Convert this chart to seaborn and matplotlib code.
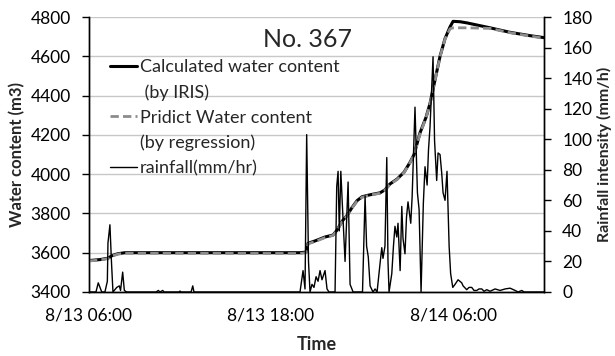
import pandas as pd
import seaborn as sns
import matplotlib
matplotlib.use("Agg")
from matplotlib import pyplot as plt
from matplotlib.lines import Line2D

# time in hours after 8/13 06:00
tick_hours = [0, 12, 24]
tick_labels = ["8/13 06:00", "8/13 18:00", "8/14 06:00"]

# water content (m3), calculated by IRIS
calc_hours = [0, 0.73, 1.25, 1.52, 1.91, 2.37, 13.91, 14.31, 14.44, 14.9, 15.56, 16.09,
              16.35, 16.68, 17.01, 17.34, 17.67, 18.0, 18.53, 19.19, 19.51, 19.84, 20.31,
              20.77, 21.16, 21.43, 21.82, 22.22, 22.48, 22.81, 23.14, 23.47, 23.8, 24.0,
              24.46, 24.92, 26.44, 27.76, 29.08, 30.0]
calc_water = [3560, 3565, 3572, 3585, 3595, 3600, 3600, 3603, 3648, 3660, 3680, 3690,
              3715, 3760, 3790, 3830, 3865, 3885, 3895, 3905, 3920, 3950, 3975,
              4010, 4060, 4100, 4210, 4290, 4360, 4480, 4600, 4690, 4750, 4778,
              4776, 4770, 4745, 4722, 4705, 4695]

# water content (m3), predicted by regression
pred_hours = [0, 0.73, 1.25, 1.52, 1.91, 2.37, 13.91, 14.31, 14.44, 14.9, 15.56, 16.09,
              16.35, 16.68, 17.01, 17.34, 17.67, 18.0, 18.53, 19.19, 19.51, 19.84, 20.31,
              20.77, 21.16, 21.43, 21.82, 22.22, 22.48, 22.81, 23.14, 23.47, 23.8, 24.0,
              24.46, 24.92, 26.44, 27.76, 29.08, 30.0]
pred_water = [3558, 3563, 3570, 3583, 3593, 3597, 3596, 3600, 3645, 3657, 3677, 3688,
              3712, 3758, 3788, 3828, 3862, 3882, 3893, 3903, 3918, 3948, 3973,
              4008, 4058, 4098, 4205, 4288, 4358, 4478, 4598, 4688, 4740, 4745,
              4745, 4745, 4742, 4720, 4703, 4692]

# rainfall intensity (mm/h)
rain_hours = [0, 0.46, 0.61, 0.84, 1.05, 1.21, 1.25, 1.38, 1.48, 1.58, 1.83, 2.0, 2.08,
              2.22, 2.33, 2.49, 4.42, 4.57, 4.68, 4.86, 4.95, 5.93, 6.0, 6.07, 6.73,
              6.84, 6.92, 13.91, 14.11, 14.24, 14.35, 14.47, 14.57, 14.7, 14.83, 14.97,
              15.1, 15.23, 15.36, 15.56, 15.69, 15.82, 16.22, 16.33, 16.42, 16.5, 16.6,
              16.74, 16.88, 17.08, 17.21, 17.41, 18.03, 18.2, 18.3, 18.41, 18.53, 18.72,
              18.86, 18.99, 19.19, 19.3, 19.38, 19.51, 19.63, 19.71, 19.78, 19.96, 20.07,
              20.17, 20.29, 20.37, 20.51, 20.62, 20.7, 20.83, 20.93, 21.03, 21.21, 21.3,
              21.49, 21.65, 21.76, 21.89, 22.04, 22.15, 22.29, 22.38, 22.48, 22.68,
              22.78, 22.92, 23.01, 23.14, 23.25, 23.34, 23.47, 23.6, 23.74, 23.84, 23.98,
              24.13, 24.33, 24.57, 24.66, 24.9, 25.05, 25.23, 25.38, 25.56, 25.71, 25.89,
              26.04, 26.22, 26.44, 26.77, 27.1, 27.43, 27.76, 28.09, 28.29, 28.53, 28.68,
              30.0]
rain_mm = [0, 0, 6, 0, 0, 7, 32, 44, 20, 0, 3, 4, 1,
           13, 1, 0, 0, 1, 0, 1, 0, 0, 0.6, 0, 0,
           4, 0, 0, 14, 2, 103, 20, 0, 5, 3, 10,
           7, 14, 8, 14, 2, 0, 0, 69, 79, 40, 79,
           49, 20, 72, 5, 0, 0, 63, 30, 23, 4, 0,
           2, 0, 19, 29, 22, 30, 88, 20, 0, 12, 30,
           43, 36, 45, 14, 56, 35, 25, 49, 59, 45, 62,
           121, 65, 54, 0, 58, 82, 70, 93, 108, 154,
           99, 73, 91, 90, 78, 65, 60, 79, 30, 12, 3,
           5, 8, 6, 4, 1.5, 3, 3, 1, 1, 2, 2,
           0.5, 1.5, 0.5, 2, 1, 2, 2.5, 1, 0, 1, 0,
           0]

calc = pd.DataFrame({"hours": calc_hours, "water": calc_water})
pred = pd.DataFrame({"hours": pred_hours, "water": pred_water})
rain = pd.DataFrame({"hours": rain_hours, "rain": rain_mm})

sns.set_style("white")
plt.rcParams["font.family"] = ["Lato", "DejaVu Sans"]

fig = plt.figure(figsize=(6.15, 3.56), dpi=100)
ax = fig.add_axes([0.1447, 0.1798, 0.74, 0.7724])
ax2 = ax.twinx()

sns.lineplot(data=pred, x="hours", y="water", ax=ax, color="#8c8c8c", lw=2,
             linestyle=(0, (3, 1.5)), estimator=None, legend=False, zorder=3)
sns.lineplot(data=calc, x="hours", y="water", ax=ax, color="black", lw=2.2,
             estimator=None, legend=False, zorder=2)
sns.lineplot(data=rain, x="hours", y="rain", ax=ax2, color="black", lw=1,
             estimator=None, legend=False)

ax.set_xlim(0, 30)
ax.set_ylim(3400, 4800)
ax.set_yticks(range(3400, 4801, 200))
ax2.set_ylim(0, 180)
ax2.set_yticks(range(0, 181, 20))
ax.set_xticks(tick_hours)
ax.set_xticklabels(tick_labels)

ax.yaxis.grid(True, color="#c8c8c8", lw=1)
ax.set_axisbelow(True)

for a in (ax, ax2):
    a.spines["top"].set_visible(False)
    for s in ("left", "right", "bottom"):
        a.spines[s].set_color("black")
        a.spines[s].set_linewidth(1)
ax.tick_params(axis="both", direction="out", length=5, width=1, labelsize=12.5, colors="black")
ax2.tick_params(axis="y", direction="out", length=5, width=1, labelsize=12.5, colors="black", pad=8)
ax.tick_params(axis="y", pad=8)
ax.tick_params(axis="x", pad=6)

ax.set_xlabel("Time", fontsize=13, fontweight="bold", labelpad=9)
ax.set_ylabel("Water content (m3)", fontsize=12, fontweight="bold", labelpad=4)
ax2.set_ylabel("Rainfall intensity (mm/h)", fontsize=11.5, fontweight="bold", labelpad=3)

# legend: second lines of the labels sit on rows with an empty handle
blank = Line2D([], [], color="none")
handles = [Line2D([], [], color="black", lw=2.2), blank,
           Line2D([], [], color="#8c8c8c", lw=2, linestyle=(0, (3, 1.5))), blank,
           Line2D([], [], color="black", lw=1)]
labels = ["Calculated water content", " (by IRIS)", "Pridict Water content",
          "(by regression)", "rainfall(mm/hr)"]
ax2.legend(handles, labels, loc="upper left", bbox_to_anchor=(0.046, 0.847),
           frameon=False, fontsize=13, handlelength=1.5, handletextpad=0.17,
           labelspacing=0.5, borderpad=0, borderaxespad=0)

ax.text(0.48, 0.96, "No. 367", transform=ax.transAxes, ha="center", va="top", fontsize=18)

fig.savefig("out.png", dpi=100)
